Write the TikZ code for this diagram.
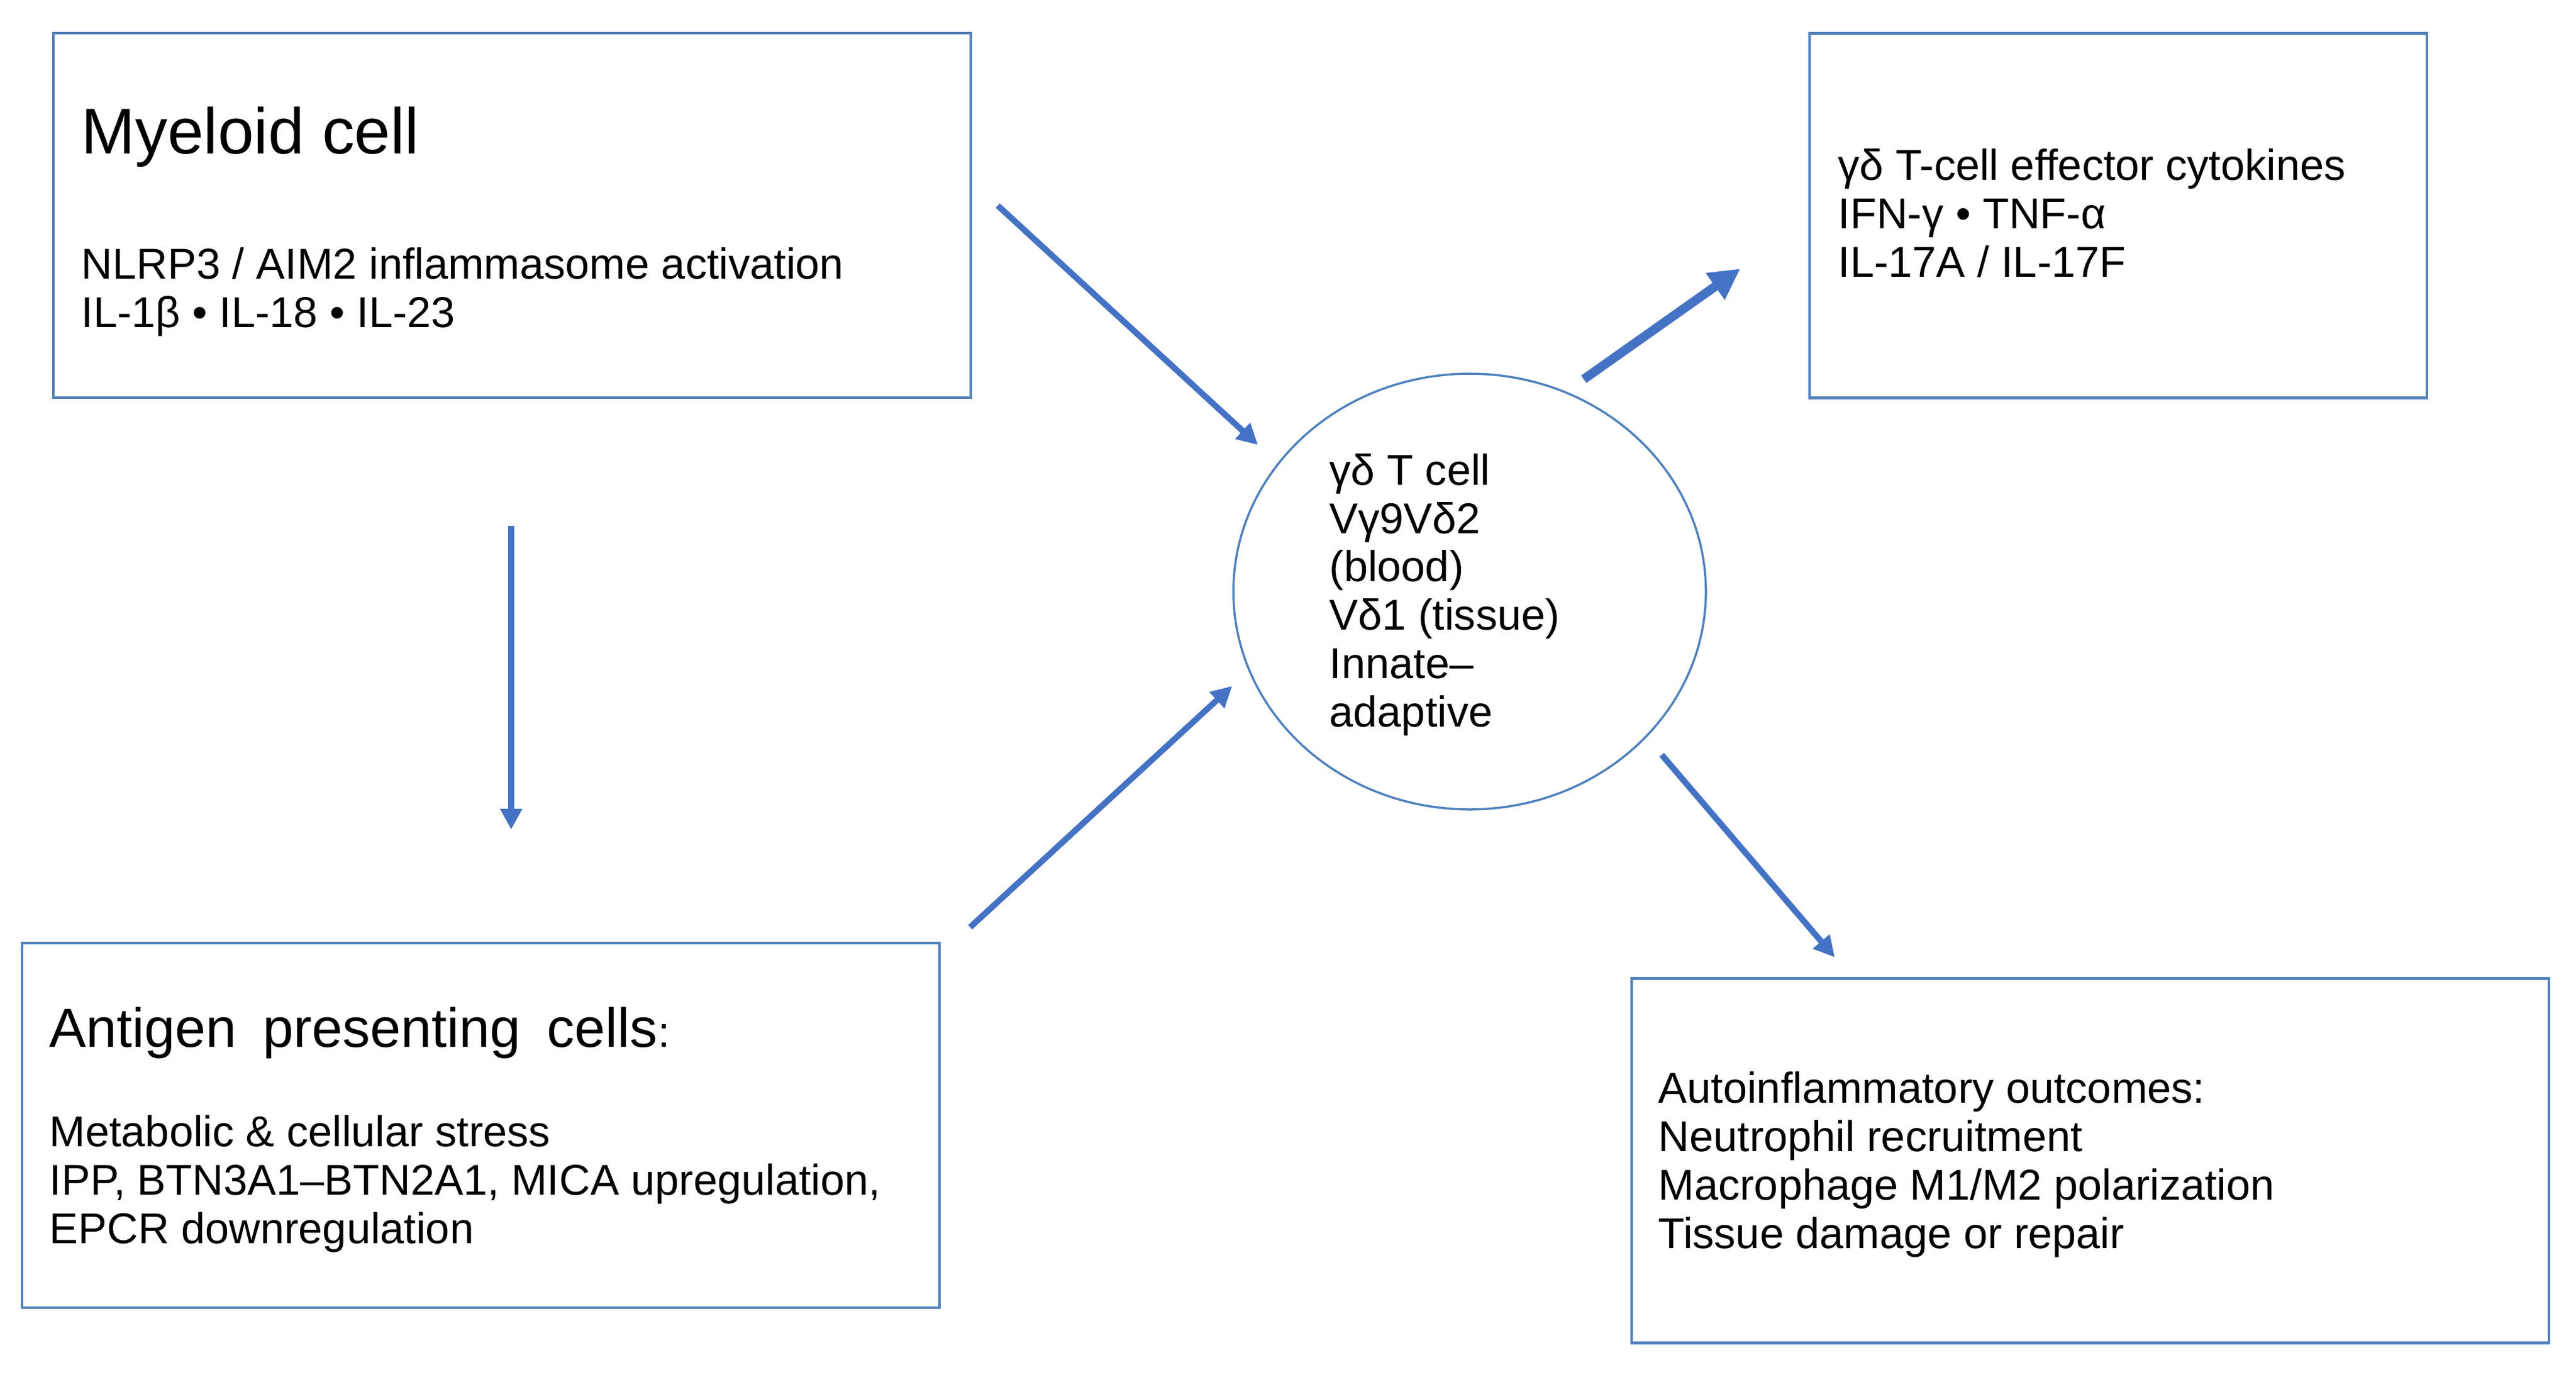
\documentclass[tikz,border=0pt]{standalone}
\usepackage{fontspec}
\setmainfont{Liberation Sans}
\usetikzlibrary{arrows.meta,shapes.geometric}

\definecolor{boxblue}{HTML}{4F81BD}
\definecolor{arrowblue}{HTML}{4472C4}

\tikzset{
  cellbox/.style = {draw = boxblue, line width = 1.2pt, inner sep = 0,
    minimum width = 14.95cm, minimum height = 5.94cm},
  headtext/.style = {anchor = base west, inner sep = 0,
    font = \fontsize{30}{34}\selectfont},
  % multi-line texts: placed at the baseline of their last line
  bodytext/.style = {anchor = base west, align = left, inner sep = 0,
    font = \fontsize{20}{22.4}\selectfont},
  flow/.style = {-{Triangle[length = 0.34cm, width = 0.34cm]}, arrowblue,
    line width = 2.8pt},
}

\begin{document}
\begin{tikzpicture}
  \useasboundingbox (0, 0) rectangle (41.98, -22.43);
  % boxes round the cell
  \node[cellbox] (myeloid) at (8.345, -3.51) {};
  \node[cellbox, minimum width = 10.06cm] (cytokines) at (34.52, -3.515) {};
  \node[cellbox] (apc) at (7.835, -18.34) {};
  \node[cellbox] (outcomes) at (34.065, -18.915) {};
  % the gamma delta T cell in the middle
  \node[ellipse, draw = boxblue, line width = 1pt, minimum width = 7.7cm,
  minimum height = 7.1cm] (tcell) at (23.95, -9.64) {};
  % texts
  \node[headtext] (myeloidhead) at (1.32, -2.50) {Myeloid cell};
  \node[bodytext] (myeloidbody) at (1.32, -5.33)
  {NLRP3 / AIM2 inflammasome activation\\IL-1β • IL-18 • IL-23};
  \node[bodytext] (cytokinesbody) at (29.95, -4.51)
  {γδ T-cell effector cytokines\\IFN-γ • TNF-α\\IL-17A / IL-17F};
  \node[headtext, font = \fontsize{25.6}{30}\selectfont] (apchead)
  at (0.80, -17.06) {Antigen\hspace{0.43cm}presenting\hspace{0.43cm}%
  cells{\fontsize{20}{22}\selectfont :}};
  \node[bodytext] (apcbody) at (0.80, -20.26)
  {Metabolic \& cellular stress\\IPP, BTN3A1–BTN2A1, MICA upregulation,\\EPCR
  downregulation};
  \node[bodytext] (outcomesbody) at (27.02, -20.34)
  {Autoinflammatory outcomes:\\Neutrophil recruitment\\Macrophage M1/M2
  polarization\\Tissue damage or repair};
  \node[bodytext] (tcellbody) at (21.66, -11.84)
  {γδ T cell\\Vγ9Vδ2\\(blood)\\Vδ1 (tissue)\\Innate–\\adaptive};
  % arrows
  \coordinate (myeloidout) at (16.26, -3.35);
  \coordinate (tcellinA) at (20.50, -7.25);
  \coordinate (myeloiddown) at (8.33, -8.57);
  \coordinate (apcin) at (8.33, -13.52);
  \coordinate (apcout) at (15.81, -15.11);
  \coordinate (tcellinB) at (20.08, -11.18);
  \coordinate (tcelloutA) at (25.81, -6.18);
  \coordinate (cytokinesin) at (28.36, -4.38);
  \coordinate (tcelloutB) at (27.08, -12.30);
  \coordinate (outcomesin) at (29.90, -15.60);
  \draw[flow] (myeloidout) -- (tcellinA);
  \draw[flow] (myeloiddown) -- (apcin);
  \draw[flow] (apcout) -- (tcellinB);
  \draw[flow, line width = 4.2pt,
  -{Triangle[length = 0.5cm, width = 0.5cm]}] (tcelloutA) -- (cytokinesin);
  \draw[flow] (tcelloutB) -- (outcomesin);
\end{tikzpicture}
\end{document}
